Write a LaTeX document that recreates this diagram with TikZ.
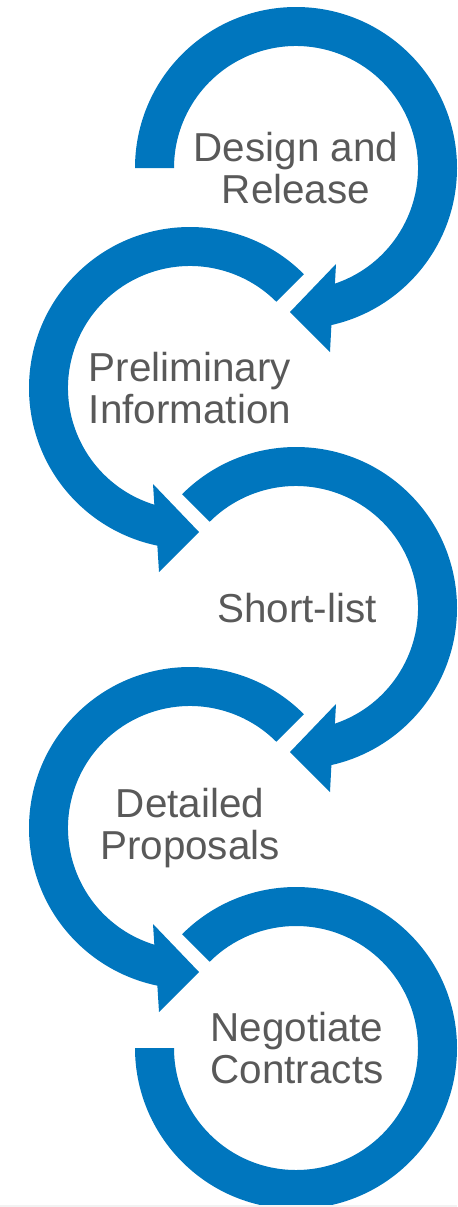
\documentclass[tikz,border=0pt]{standalone}
\usepackage{fontspec}
\setmainfont{Liberation Sans}
\definecolor{ringblue}{RGB}{0,118,190}
\definecolor{labelgray}{RGB}{89,89,89}

\begin{document}
\begin{tikzpicture}[x=0.02cm,y=0.02cm,
  ring/.style={fill=ringblue},
  lbl/.style={text=labelgray,align=center,inner sep=0pt,
    font=\fontsize{23}{23.5}\selectfont}]
  \useasboundingbox (0,0) rectangle (457,-1207);
  \foreach \cy/\sa in {168/180,608/135}
    \fill[ring,shift={(296,-\cy)}] (\sa:161) arc[start angle=\sa,end angle=-77.3,radius=161]
      -- (34,-184) -- (-6,-144) -- (40,-96) -- (-71.4:122)
      arc[start angle=-71.4,end angle=\sa,radius=122] -- cycle;
  \foreach \cy in {388,828}
    \fill[ring,shift={(190,-\cy)}] (45:161) arc[start angle=45,end angle=258.3,radius=161]
      -- (-31,-184) -- (9,-144) -- (-37,-96) -- (253:122)
      arc[start angle=253,end angle=45,radius=122] -- cycle;
  \fill[ring,shift={(296,-1048)}] (135:161) arc[start angle=135,end angle=-180,radius=161]
    -- (180:122) arc[start angle=-180,end angle=135,radius=122] -- cycle;
  \fill[black!5] (0,-1205) rectangle (457,-1207);
  \node[lbl] (design) at (296,-168) {Design and\\Release};
  \node[lbl] (prelim) at (190,-388) {Preliminary\\Information};
  \node[lbl] (short) at (297,-608) {Short-list};
  \node[lbl] (detail) at (190,-828) {Detailed\\Proposals};
  \node[lbl] (negot) at (297,-1048) {Negotiate\\Contracts};
\end{tikzpicture}
\end{document}
